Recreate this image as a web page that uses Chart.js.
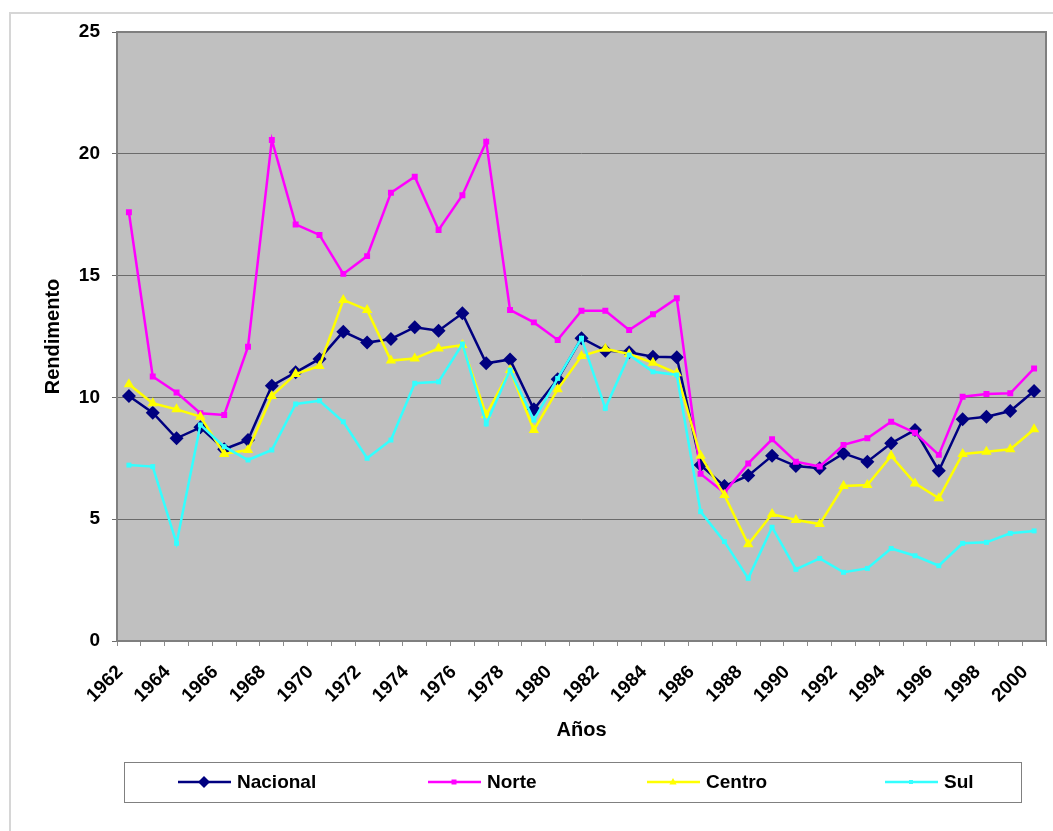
<!DOCTYPE html>
<html>
<head>
<meta charset="utf-8">
<script src="https://cdn.jsdelivr.net/npm/chart.js@4.4.1/dist/chart.umd.min.js"></script>
<style>
  html, body { margin: 0; padding: 0; background: #fff; }
  #wrap { position: relative; width: 1053px; height: 831px; }
</style>
</head>
<body>
<div id="wrap"><canvas id="c"></canvas></div>
<script>
/* Rendimento por região, 1962-2000 (Chart.js). */
const anos = [];
for (let a = 1962; a <= 2000; a++) anos.push(String(a));

const nacional = [10.06, 9.37, 8.32, 8.77, 7.87, 8.25, 10.48, 11.03, 11.58, 12.7,
  12.25, 12.4, 12.88, 12.74, 13.45, 11.4, 11.56, 9.51, 10.74, 12.43,
  11.92, 11.85, 11.67, 11.65, 7.22, 6.36, 6.79, 7.6, 7.18, 7.09,
  7.7, 7.36, 8.12, 8.66, 6.99, 9.1, 9.21, 9.44, 10.26];
const norte = [17.6, 10.86, 10.2, 9.35, 9.28, 12.08, 20.57, 17.1, 16.67, 15.07,
  15.8, 18.4, 19.06, 16.87, 18.3, 20.5, 13.59, 13.08, 12.36, 13.56,
  13.56, 12.77, 13.41, 14.07, 6.86, 6.09, 7.29, 8.28, 7.36, 7.16,
  8.05, 8.32, 9.0, 8.55, 7.64, 10.03, 10.14, 10.17, 11.19];
const centro = [10.54, 9.76, 9.51, 9.21, 7.68, 7.84, 10.06, 10.96, 11.29, 14.0,
  13.59, 11.51, 11.6, 12.01, 12.15, 9.28, 11.12, 8.66, 10.33, 11.7,
  12.0, 11.78, 11.42, 10.99, 7.6, 5.99, 3.97, 5.21, 4.97, 4.8,
  6.36, 6.4, 7.6, 6.47, 5.86, 7.68, 7.77, 7.87, 8.69];
const sul = [7.22, 7.16, 4.01, 8.87, 7.98, 7.43, 7.84, 9.73, 9.86, 9.0,
  7.5, 8.25, 10.58, 10.64, 12.19, 8.91, 11.12, 9.07, 10.78, 12.43,
  9.55, 11.74, 11.05, 10.92, 5.31, 4.08, 2.57, 4.67, 2.94, 3.39,
  2.82, 2.98, 3.8, 3.5, 3.09, 4.01, 4.05, 4.42, 4.52];

const FONT = "'Liberation Sans', Arial, sans-serif";

// Posición x de cada entrada de la leyenda (inicio de la línea)
const legendX = [178, 428, 647, 885];

function marker(ctx, style, x, y, r, color) {
  ctx.fillStyle = color;
  ctx.beginPath();
  if (style === 'rectRot') {
    ctx.moveTo(x, y - r); ctx.lineTo(x + r, y); ctx.lineTo(x, y + r); ctx.lineTo(x - r, y);
  } else if (style === 'triangle') {
    ctx.moveTo(x, y - r); ctx.lineTo(x + r * 0.9, y + r * 0.6); ctx.lineTo(x - r * 0.9, y + r * 0.6);
  } else {
    ctx.rect(x - r, y - r, 2 * r, 2 * r);
  }
  ctx.closePath();
  ctx.fill();
}

const fondo = {
  id: 'fondo',
  beforeDraw(chart) {
    const { ctx, chartArea: a } = chart;
    ctx.save();
    // marco exterior (solo arriba e izquierda, como el recorte original)
    ctx.strokeStyle = '#d6d6d6';
    ctx.lineWidth = 2;
    ctx.beginPath();
    ctx.moveTo(10, 831); ctx.lineTo(10, 13); ctx.lineTo(1053, 13);
    ctx.stroke();
    ctx.fillStyle = '#c0c0c0';
    ctx.fillRect(a.left, a.top, a.right - a.left, a.bottom - a.top);
    ctx.restore();
  },
  beforeDatasetsDraw(chart) {
    const { ctx, chartArea: a } = chart;
    ctx.save();
    ctx.strokeStyle = '#7f7f7f';
    ctx.lineWidth = 2;
    ctx.strokeRect(a.left, a.top, a.right - a.left, a.bottom - a.top);
    ctx.restore();
  },
  afterDraw(chart) {
    const ctx = chart.ctx;
    ctx.save();
    ctx.fillStyle = '#fff';
    ctx.fillRect(124, 762, 897, 40);
    ctx.strokeStyle = '#808080';
    ctx.lineWidth = 1;
    ctx.strokeRect(124.5, 762.5, 897, 40);
    const yc = 782;
    chart.data.datasets.forEach((ds, i) => {
      const x0 = legendX[i];
      ctx.strokeStyle = ds.borderColor;
      ctx.lineWidth = 2.5;
      ctx.beginPath(); ctx.moveTo(x0, yc); ctx.lineTo(x0 + 53, yc); ctx.stroke();
      marker(ctx, ds.pointStyle, x0 + 26, yc, ds.legendR, ds.borderColor);
      ctx.fillStyle = '#000';
      ctx.font = 'bold 19px ' + FONT;
      ctx.textBaseline = 'middle';
      ctx.textAlign = 'left';
      ctx.fillText(ds.label, x0 + 59, yc + 1);
    });
    ctx.restore();
  }
};

new Chart(document.getElementById('c'), {
  type: 'line',
  data: {
    labels: anos,
    datasets: [
      { label: 'Nacional', data: nacional, borderColor: '#000080', backgroundColor: '#000080',
        borderWidth: 2.5, pointStyle: 'rectRot', pointRadius: 7, pointBorderWidth: 0, order: 3, legendR: 6 },
      { label: 'Norte', data: norte, borderColor: '#ff00ff', backgroundColor: '#ff00ff',
        borderWidth: 2.5, pointStyle: 'rect', pointRadius: 4.2, pointBorderWidth: 0, order: 2, legendR: 2.5 },
      { label: 'Centro', data: centro, borderColor: '#ffff00', backgroundColor: '#ffff00',
        borderWidth: 2.5, pointStyle: 'triangle', pointRadius: 6, pointBorderWidth: 0, order: 1, legendR: 4 },
      { label: 'Sul', data: sul, borderColor: '#33ffff', backgroundColor: '#33ffff',
        borderWidth: 2.5, pointStyle: 'rect', pointRadius: 3.5, pointBorderWidth: 0, order: 0, legendR: 2 },
    ],
  },
  options: {
    responsive: true,
    maintainAspectRatio: false,
    animation: false,
    layout: { padding: { left: 41, top: 32, right: 5, bottom: 89 } },
    elements: { line: { tension: 0 } },
    plugins: { legend: { display: false }, tooltip: { enabled: false } },
    scales: {
      x: {
        offset: true,
        // alto fijo y sin relleno extra a la derecha por la última etiqueta girada
        afterFit: s => { s.height = 101; s.paddingRight = 0; s.paddingLeft = 0; },
        grid: { offset: true, drawOnChartArea: false, drawTicks: true, tickLength: 5, color: '#8c8c8c' },
        border: { display: false },
        ticks: {
          autoSkip: false, minRotation: 45, maxRotation: 45, padding: 15, labelOffset: -9,
          color: '#000', font: { family: FONT, size: 19, weight: 'bold' },
          callback: (v, i) => (i % 2 === 0 ? anos[i] : ''),
        },
        title: { display: true, text: 'Años', color: '#000', padding: 0,
          font: { family: FONT, size: 20, weight: 'bold' } },
      },
      y: {
        min: 0, max: 25,
        afterFit: s => { s.width = 76; },
        grid: { color: '#6b6b6b', lineWidth: 1, tickLength: 5 },
        border: { display: false },
        ticks: { stepSize: 5, padding: 12, color: '#000', font: { family: FONT, size: 19, weight: 'bold' } },
        title: { display: true, text: 'Rendimento', color: '#000', padding: 0,
          font: { family: FONT, size: 20, weight: 'bold' } },
      },
    },
  },
  plugins: [fondo],
});
</script>
</body>
</html>
